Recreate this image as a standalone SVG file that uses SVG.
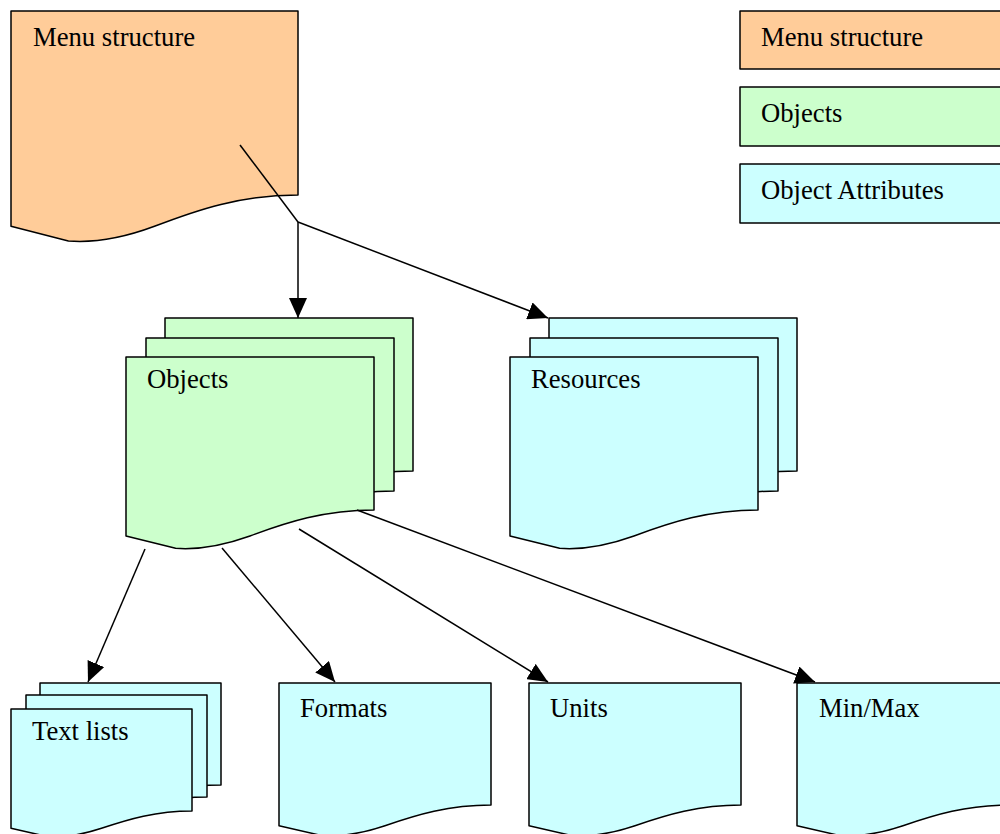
<svg xmlns="http://www.w3.org/2000/svg" xmlns:xlink="http://www.w3.org/1999/xlink" width="1000" height="834" viewBox="0 0 1000 834">
<style>
.doc{stroke:#000;stroke-width:1.5;stroke-linejoin:round}
.ms{fill:#FFCC99}
.ob{fill:#CCFFCC}
.at{fill:#CCFFFF}
.lbl{font-family:"Liberation Serif","Times New Roman",serif;font-size:26.67px;fill:#000}
.con{stroke:#000;stroke-width:1.5;fill:none}
</style>
<defs>
<path id="d287" d="M0,0 H287 V184 C229.6,184 186.6,198.7 143.5,215.3 C109,228.2 80.4,231.8 57.4,230 L0,215.3 Z"/>
<path id="d248" d="M0,0 H248 V153 C198.4,153 161.2,165.2 124,179 C94.2,189.7 69.4,192.8 49.6,191.3 L0,179 Z"/>
<path id="d181" d="M0,0 H181 V102 C144.8,102 117.7,110.2 90.5,119.3 C68.8,126.5 50.7,128.5 36.2,127.5 L0,119.3 Z"/>
<path id="d212" d="M0,0 H212 V122 C169.6,122 137.8,131.8 106,142.7 C80.6,151.3 59.4,153.7 42.4,152.5 L0,142.7 Z"/>
<marker id="arr" markerUnits="userSpaceOnUse" markerWidth="20" markerHeight="18" refX="20" refY="9" orient="auto">
<path d="M0,0 L20,9 L0,18 Z" fill="#000"/>
</marker>
</defs>

<g id="legend-menu">
<rect class="doc ms" x="740" y="11" width="290" height="58"/>
<text class="lbl" x="761" y="46">Menu structure</text>
</g>
<g id="legend-objects">
<rect class="doc ob" x="740" y="87" width="290" height="59"/>
<text class="lbl" x="761" y="122">Objects</text>
</g>
<g id="legend-attributes">
<rect class="doc at" x="740" y="164" width="290" height="59"/>
<text class="lbl" x="761" y="199">Object Attributes</text>
</g>

<g id="menu-structure">
<use xlink:href="#d287" class="doc ms" transform="translate(11,11)"/>
<text class="lbl" x="33" y="46">Menu structure</text>
</g>

<g id="objects">
<use xlink:href="#d248" class="doc ob" transform="translate(165,318)"/>
<use xlink:href="#d248" class="doc ob" transform="translate(146,338)"/>
<use xlink:href="#d248" class="doc ob" transform="translate(126,357)"/>
<text class="lbl" x="147" y="388">Objects</text>
</g>

<g id="resources">
<use xlink:href="#d248" class="doc at" transform="translate(549,318)"/>
<use xlink:href="#d248" class="doc at" transform="translate(530,338)"/>
<use xlink:href="#d248" class="doc at" transform="translate(510,357)"/>
<text class="lbl" x="531" y="388">Resources</text>
</g>

<g id="text-lists">
<use xlink:href="#d181" class="doc at" transform="translate(40,683)"/>
<use xlink:href="#d181" class="doc at" transform="translate(26,695)"/>
<use xlink:href="#d181" class="doc at" transform="translate(11,709)"/>
<text class="lbl" x="32" y="740">Text lists</text>
</g>

<g id="formats">
<use xlink:href="#d212" class="doc at" transform="translate(279,683)"/>
<text class="lbl" x="300" y="717">Formats</text>
</g>

<g id="units">
<use xlink:href="#d212" class="doc at" transform="translate(529,683)"/>
<text class="lbl" x="550" y="717">Units</text>
</g>

<g id="min-max">
<use xlink:href="#d212" class="doc at" transform="translate(797,683)"/>
<text class="lbl" x="819" y="717">Min/Max</text>
</g>

<g id="connectors">
<line class="con" x1="240" y1="145" x2="298" y2="222"/>
<line class="con" x1="298" y1="222" x2="298" y2="318" marker-end="url(#arr)"/>
<line class="con" x1="298" y1="222" x2="548" y2="318" marker-end="url(#arr)"/>
<line class="con" x1="145" y1="549" x2="88" y2="682" marker-end="url(#arr)"/>
<line class="con" x1="222" y1="548" x2="335" y2="682" marker-end="url(#arr)"/>
<line class="con" x1="299" y1="529" x2="548" y2="682" marker-end="url(#arr)"/>
<line class="con" x1="357" y1="510" x2="815" y2="682" marker-end="url(#arr)"/>
</g>
</svg>
